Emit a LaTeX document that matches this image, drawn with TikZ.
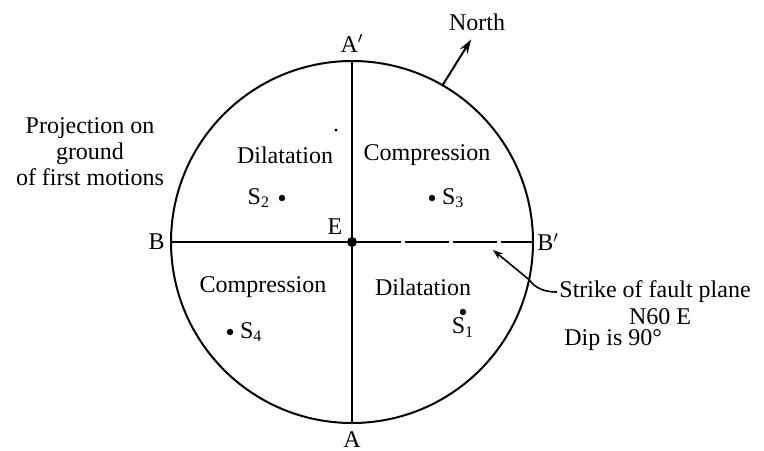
\documentclass[tikz,border=0pt]{standalone}
\usepackage{fontspec}
\setmainfont{Liberation Serif}
\usetikzlibrary{arrows.meta,positioning}

\begin{document}
\begin{tikzpicture}[
    x=0.5pt, y=-0.5pt,
    node distance=2pt,
    lbl/.style={inner sep=1pt, font=\fontsize{12}{13}\selectfont},
    station/.style={circle, fill, inner sep=0pt, minimum size=3.2pt},
    trace/.style={line width=1pt},
    arr/.style={-{Stealth[length=7pt,width=4.5pt]}, line width=1pt}
  ]
  \useasboundingbox (0,0) rectangle (764,450);
  \coordinate (c) at (352,242);
  \draw[trace] (c) circle[radius=181];
  \coordinate (top) at (352,61);
  \coordinate (bot) at (352,423);
  \coordinate (west) at (171,242);
  \coordinate (east) at (533,242);
  \node[lbl, above=3pt of top] (Ap) {A$'$};
  \node[lbl, below=3pt of bot] (A) {A};
  \node[lbl, left=2pt of west] (B) {B};
  \node[lbl, right=1pt of east] (Bp) {B$'$};
  \node[station, minimum size=5pt] (E) at (c) {};
  \node[lbl] (Elbl) at (335,227) {E};
  % nodal planes
  \draw[trace] (top) -- (bot);
  \draw[line width=0.7pt] (west) -- (E);
  \draw[line width=1pt, dash pattern=on 22pt off 2pt] (E) -- (east);
  % north arrow
  \path (c) ++(-60:181) coordinate (nbase);
  \draw[arr] (nbase) -- ++(-58:54) coordinate (ntip);
  \node[lbl] (north) at (477,22) {North};
  % quadrants
  \node[lbl] (dil1) at (285,155) {Dilatation};
  \node[lbl] (comp1) at (427,155) {Compression};
  \node[lbl] (comp2) at (263,287) {Compression};
  \node[lbl] (dil2) at (423,287) {Dilatation};
  \fill (336,130) circle[radius=1.6];
  % stations
  \node[station] (s2) at (282,198) {};
  \node[lbl, left=3pt of s2] (s2lbl) {S\textsubscript{2}};
  \node[station] (s3) at (432,198) {};
  \node[lbl, right=2pt of s3] (s3lbl) {S\textsubscript{3}};
  \node[station] (s4) at (230,332) {};
  \node[lbl, right=2pt of s4] (s4lbl) {S\textsubscript{4}};
  \node[station] (s1) at (463,312) {};
  \node[lbl, below=0pt of s1] (s1lbl) {S\textsubscript{1}};
  % fault plane
  \node[lbl, align=center] (proj) at (90,152) {Projection on\\ground\\of first motions};
  \node[lbl, anchor=west] (strike) at (557,292) {Strike of fault plane};
  \node[lbl] (n60) at (660,317) {N60 E};
  \node[lbl, anchor=west] (dip) at (562,340) {Dip is 90°};
  \path (c) ++(12:181) coordinate (cross);
  \coordinate (ftip) at (493,250);
  \draw[line width=0.8pt, -{Stealth[length=5pt,width=3.5pt]}] (strike.west) .. controls (540,292) and (533,285) .. (cross) -- (ftip);
\end{tikzpicture}
\end{document}
